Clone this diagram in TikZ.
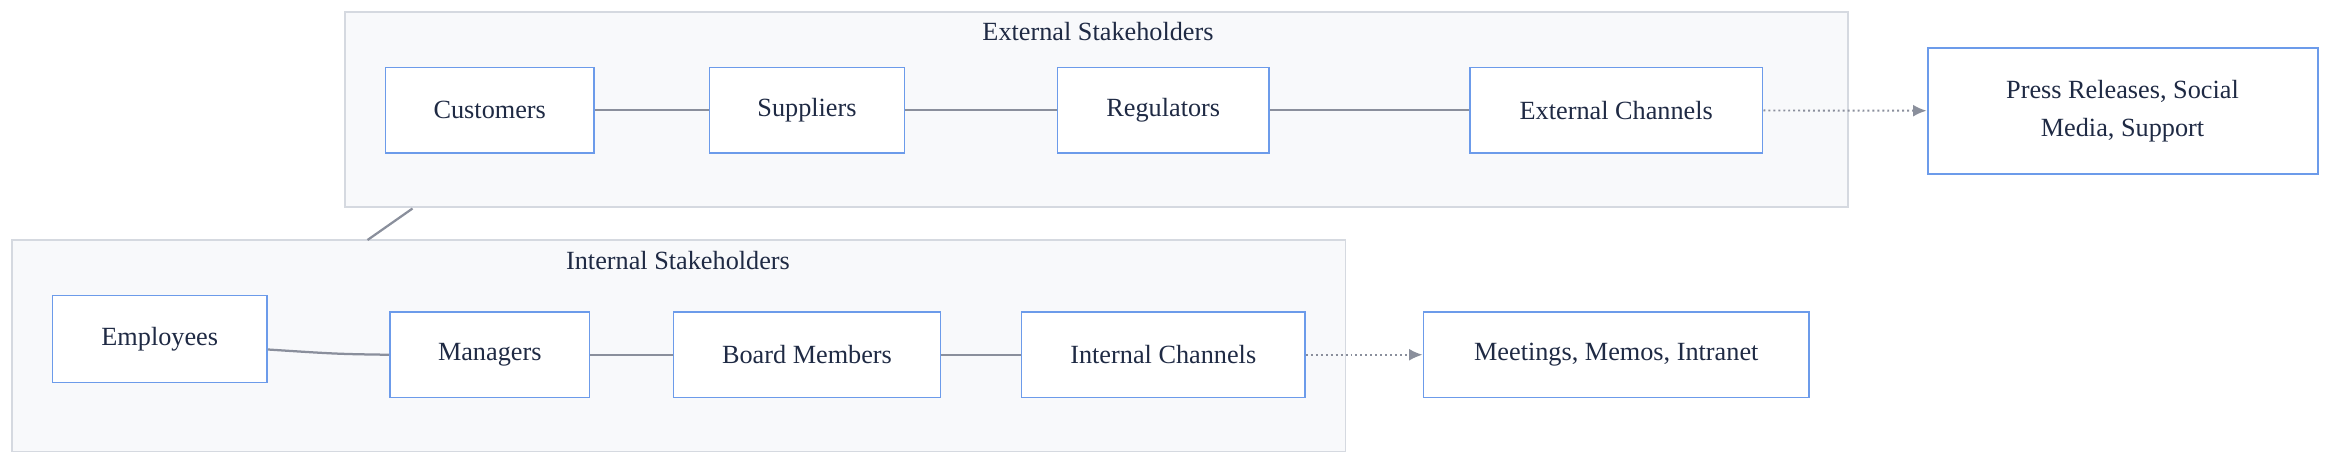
\documentclass[tikz,border=0pt]{standalone}
\usepackage{fontspec}
\setmainfont{Liberation Serif}
\usetikzlibrary{arrows.meta, positioning}
\definecolor{boxblue}{HTML}{6C9BEA}
\definecolor{clfill}{HTML}{F8F9FB}
\definecolor{cldraw}{HTML}{D5D9E0}
\definecolor{linkgray}{HTML}{8A8F9C}
\definecolor{ink}{HTML}{1F2A44}
\tikzset{
  party/.style={draw=boxblue, line width=1.3pt, fill=white, text=ink, align=center, font=\fontsize{17.5}{25}\selectfont, inner sep=0pt},
  group/.style={draw=cldraw, line width=1pt, fill=clfill},
  grouptitle/.style={text=ink, font=\fontsize{17.5}{20}\selectfont},
  link/.style={draw=linkgray, line width=1.5pt},
  feed/.style={draw=linkgray, line width=1.3pt, dotted, -{Latex[length=9pt,width=8pt]}}
}
\begin{document}
\begin{tikzpicture}[x=1pt, y=-1pt]
  \useasboundingbox (0,0) rectangle (1568,311);
  % clusters
  \draw[group] (230,8) rectangle (1232,138);
  \node[grouptitle] (exttitle) at (732,21) {External Stakeholders};
  \draw[group] (8,160) rectangle (897,301);
  \node[grouptitle] (inttitle) at (452,174) {Internal Stakeholders};
  \coordinate (extfoot) at (275,139);
  \coordinate (inthead) at (245,160);
  \draw[link] (extfoot) -- (inthead);
  % external
  \node[party, minimum width=139pt, minimum height=57pt] (customers) at (326.5,73.5) {Customers};
  \node[party, minimum width=130pt, minimum height=57pt] (suppliers) at (538,73.5) {Suppliers};
  \node[party, minimum width=141pt, minimum height=57pt] (regulators) at (775.5,73.5) {Regulators};
  \node[party, minimum width=195pt, minimum height=57pt] (extchannels) at (1077.5,73.5) {External Channels};
  \node[party, minimum width=260pt, minimum height=84pt] (press) at (1415,74) {Press Releases, Social\\Media, Support};
  % internal
  \node[party, minimum width=143pt, minimum height=58pt] (employees) at (106.5,226) {Employees};
  \node[party, minimum width=133pt, minimum height=57pt] (managers) at (326.5,236.5) {Managers};
  \node[party, minimum width=178pt, minimum height=57pt] (board) at (538,236.5) {Board Members};
  \node[party, minimum width=189pt, minimum height=57pt] (intchannels) at (775.5,236.5) {Internal Channels};
  \node[party, minimum width=257pt, minimum height=57pt] (meetings) at (1077.5,236.5) {Meetings, Memos, Intranet};
  % links
  \draw[link] (customers) -- (suppliers);
  \draw[link] (suppliers) -- (regulators);
  \draw[link] (regulators) -- (extchannels);
  \draw[feed] (extchannels) -- (press);
  \draw[link] ([yshift=-7pt]employees.east) .. controls (225,236) .. (managers.west);
  \draw[link] (managers) -- (board);
  \draw[link] (board) -- (intchannels);
  \draw[feed] (intchannels) -- (meetings);
\end{tikzpicture}
\end{document}
